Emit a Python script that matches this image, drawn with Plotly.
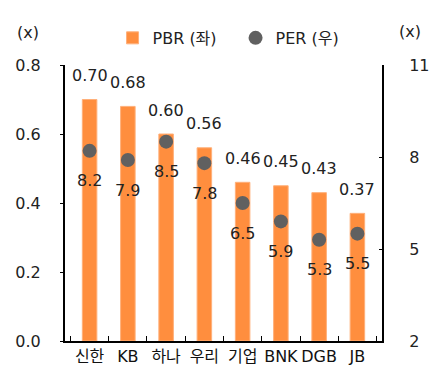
import plotly.graph_objects as go

banks = ["신한", "KB", "하나", "우리", "기업", "BNK", "DGB", "JB"]
pbr = [0.70, 0.68, 0.60, 0.56, 0.46, 0.45, 0.43, 0.37]
per = [8.2, 7.9, 8.5, 7.8, 6.5, 5.9, 5.3, 5.5]

FONT = "DejaVu Sans, Noto Sans CJK KR"
ORANGE = "#FF8E3E"
GREY = "#606060"
TXT = "#222"

fig = go.Figure()
fig.add_trace(go.Bar(
    x=banks, y=pbr, name="PBR (좌)", width=0.38,
    marker=dict(color=ORANGE, line=dict(color="#FFB07A", width=1)),
))
fig.add_trace(go.Scatter(
    x=banks, y=per, name="PER (우)", yaxis="y2", mode="markers",
    marker=dict(color=GREY, size=14),
))

# value labels: PBR above each bar, PER below each dot
for b, v in zip(banks, pbr):
    fig.add_annotation(x=b, y=v, xref="x", yref="y", text=f"{v:.2f}",
                       showarrow=False, yshift=24, font=dict(size=16, color=TXT))
for b, v in zip(banks, per):
    fig.add_annotation(x=b, y=v, xref="x", yref="y2", text=f"{v:.1f}",
                       showarrow=False, yshift=-30, font=dict(size=16, color=TXT))

# axis unit captions
fig.add_annotation(x=-0.117, y=1.116, xref="paper", yref="paper", text="(x)",
                   xanchor="center", yanchor="middle",
                   showarrow=False, font=dict(size=16, color=TXT))
fig.add_annotation(x=1.088, y=1.123, xref="paper", yref="paper", text="(x)",
                   xanchor="center", yanchor="middle",
                   showarrow=False, font=dict(size=16, color=TXT))

fig.update_layout(
    width=435, height=376,
    margin=dict(l=65, r=53, t=65, b=35, autoexpand=False),
    paper_bgcolor="white", plot_bgcolor="white",
    font=dict(family=FONT, size=16, color=TXT),
    showlegend=True,
    legend=dict(orientation="h", x=0.15, y=1.098, xanchor="left", yanchor="middle",
                font=dict(size=16), itemwidth=30, entrywidth=78,
                entrywidthmode="pixels", bgcolor="rgba(0,0,0,0)"),
    xaxis=dict(showline=True, linecolor="black", linewidth=2, automargin=False,
               ticks="inside", tickson="boundaries", ticklen=5, tickcolor="black",
               tickangle=0, tickfont=dict(size=16, color="#111"), showgrid=False),
    yaxis=dict(range=[0, 0.8], dtick=0.2, tickformat=".1f", showline=True,
               automargin=False, linecolor="black", linewidth=2, ticks="outside",
               ticklen=3, tickcolor="black", showgrid=False, zeroline=False,
               ticklabelstandoff=16),
    yaxis2=dict(range=[2, 11], tickvals=[2, 5, 8, 11], overlaying="y", side="right",
                automargin=False, showline=True, linecolor="black", linewidth=2,
                ticks="inside", ticklen=3, tickcolor="black", showgrid=False,
                zeroline=False, ticklabelstandoff=22),
)

fig.write_html("out.html")
